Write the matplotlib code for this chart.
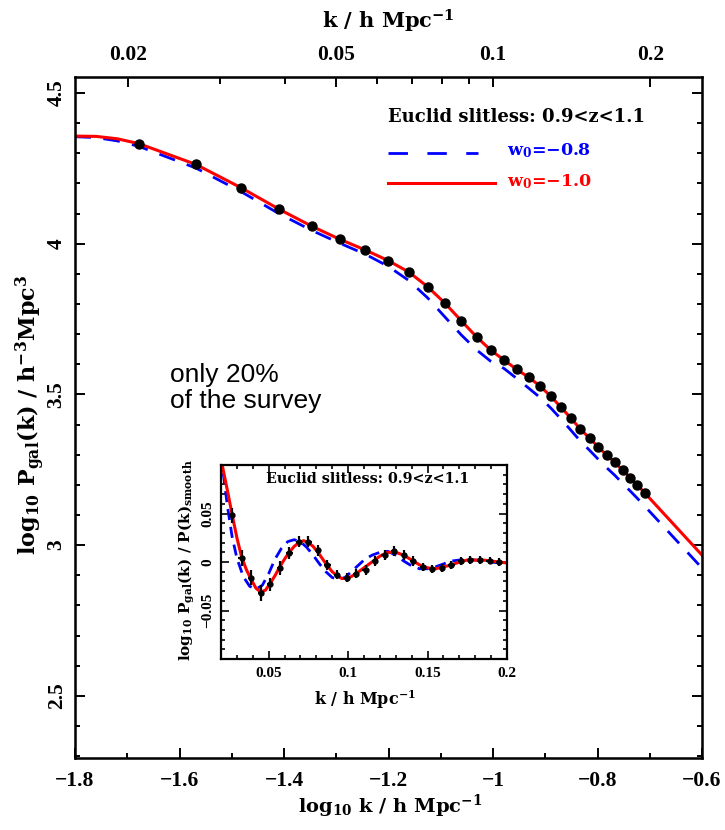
import numpy as np
import matplotlib.pyplot as plt
from matplotlib.ticker import FixedLocator, MultipleLocator, FuncFormatter

plt.rcParams['font.family'] = ['Liberation Serif', 'DejaVu Serif']
plt.rcParams['font.weight'] = 'bold'
plt.rcParams['mathtext.fontset'] = 'custom'
plt.rcParams['mathtext.rm'] = 'DejaVu Serif:bold'
plt.rcParams['mathtext.it'] = 'DejaVu Serif:bold'
plt.rcParams['mathtext.bf'] = 'DejaVu Serif:bold'
LAB = ['DejaVu Serif']

# main panel: binned galaxy power spectrum (dots) and two models
k_pts = [0.021, 0.027, 0.033, 0.039, 0.045, 0.051, 0.057, 0.063, 0.069, 0.075,
         0.081, 0.087, 0.093, 0.099, 0.105, 0.111, 0.117, 0.123, 0.129, 0.135,
         0.141, 0.147, 0.153, 0.159, 0.165, 0.171, 0.177, 0.183, 0.189, 0.195]
logP_pts = [4.332, 4.263, 4.185, 4.114, 4.058, 4.014, 3.979, 3.944, 3.906, 3.857,
            3.802, 3.744, 3.691, 3.647, 3.614, 3.583, 3.557, 3.528, 3.494, 3.457,
            3.421, 3.385, 3.355, 3.326, 3.299, 3.275, 3.249, 3.224, 3.199, 3.174]

k_line = [0.0158, 0.0174, 0.0191] + k_pts + [0.2512]
logP_w10 = [4.357, 4.356, 4.348,
            4.332, 4.263, 4.185, 4.114, 4.058, 4.014, 3.979, 3.944, 3.906, 3.857,
            3.802, 3.744, 3.691, 3.647, 3.614, 3.583, 3.557, 3.528, 3.494, 3.457,
            3.421, 3.385, 3.355, 3.326, 3.299, 3.275, 3.249, 3.224, 3.199, 3.174,
            2.967]
logP_w08 = [4.355, 4.352, 4.341,
            4.323, 4.251, 4.172, 4.099, 4.044, 4.001, 3.965, 3.925, 3.878, 3.820,
            3.756, 3.697, 3.648, 3.610, 3.586, 3.553, 3.521, 3.490, 3.455, 3.418,
            3.381, 3.345, 3.315, 3.285, 3.257, 3.232, 3.205, 3.180, 3.155, 3.130,
            2.924]

# inset: ratio to smooth spectrum
k_in = k_pts[1:]
ratio_pts = [0.048, 0.004, -0.016, -0.032, -0.023, -0.006, 0.009, 0.021, 0.021, 0.012,
             -0.003, -0.013, -0.016, -0.012, -0.008, 0.001, 0.0075, 0.011, 0.0075, 0.001,
             -0.005, -0.007, -0.006, -0.003, 0.001, 0.002, 0.002, 0.0015, 0.0]
ratio_err = [0.008, 0.008, 0.008, 0.008, 0.007, 0.007, 0.006, 0.006, 0.006, 0.006,
             0.005, 0.005, 0.005, 0.005, 0.005, 0.005, 0.005, 0.005, 0.005, 0.005,
             0.004, 0.004, 0.004, 0.004, 0.004, 0.004, 0.004, 0.004, 0.004]

k_in_red = [0.020, 0.024, 0.027, 0.030, 0.033, 0.036, 0.039, 0.042, 0.045, 0.048,
            0.051, 0.054, 0.057, 0.060, 0.063, 0.066, 0.069, 0.072, 0.075, 0.078,
            0.081, 0.084, 0.087, 0.090, 0.093, 0.096, 0.099, 0.102, 0.105, 0.110,
            0.115, 0.120, 0.125, 0.130, 0.135, 0.140, 0.145, 0.150, 0.155, 0.160,
            0.165, 0.170, 0.175, 0.180, 0.185, 0.190, 0.195, 0.200]
ratio_w10 = [0.106, 0.074, 0.049, 0.025, 0.005, -0.008, -0.018, -0.027, -0.031, -0.029,
             -0.022, -0.014, -0.005, 0.003, 0.010, 0.016, 0.020, 0.022, 0.020, 0.016,
             0.010, 0.003, -0.004, -0.010, -0.014, -0.017, -0.017, -0.015, -0.012, -0.006,
             0.000, 0.006, 0.010, 0.010, 0.007, 0.002, -0.003, -0.006, -0.007, -0.005,
             -0.003, 0.000, 0.002, 0.002, 0.002, 0.001, 0.000, -0.001]

k_in_blue = [0.020, 0.024, 0.027, 0.030, 0.034, 0.038, 0.042, 0.046, 0.050, 0.054,
             0.058, 0.062, 0.066, 0.070, 0.074, 0.078, 0.082, 0.086, 0.090, 0.094,
             0.098, 0.102, 0.106, 0.110, 0.115, 0.120, 0.125, 0.130, 0.135, 0.140,
             0.145, 0.150, 0.155, 0.160, 0.165, 0.170, 0.175, 0.180, 0.185, 0.190,
             0.195, 0.200]
ratio_w08 = [0.110, 0.058, 0.026, 0.004, -0.015, -0.025, -0.028, -0.024, -0.012, 0.003,
             0.014, 0.021, 0.023, 0.021, 0.015, 0.007, -0.002, -0.010, -0.016, -0.018,
             -0.016, -0.010, -0.004, 0.002, 0.007, 0.010, 0.011, 0.007, 0.001, -0.004,
             -0.007, -0.007, -0.005, -0.002, 0.001, 0.002, 0.003, 0.002, 0.001, 0.000,
             -0.001, -0.001]

top_ticks = [0.02, 0.05, 0.1, 0.2]
top_minor = [0.03, 0.04, 0.06, 0.07, 0.08, 0.09]

W, H = 725, 830
fig = plt.figure(figsize=(W / 100, H / 100), dpi=100)


def box(l, t, r, b):
    return [l / W, 1 - b / H, (r - l) / W, (b - t) / H]


def fmt(x, pos):
    return f'{x:g}'.replace('-', '\u2212')


ax = fig.add_axes(box(75, 77, 702, 758))
ax.plot(np.log10(k_line), logP_w08, color='blue', lw=2.0, dashes=(6, 4.5))
ax.plot(np.log10(k_line), logP_w10, color='red', lw=2.2)
ax.plot(np.log10(k_pts), logP_pts, 'o', color='black', ms=6.5)
ax.set_xlim(-1.8, -0.6)
ax.set_ylim(2.294, 4.553)

ax.xaxis.set_major_locator(MultipleLocator(0.2))
ax.xaxis.set_minor_locator(MultipleLocator(0.1))
ax.yaxis.set_major_locator(MultipleLocator(0.5))
ax.yaxis.set_minor_locator(MultipleLocator(0.1))
ax.xaxis.set_major_formatter(FuncFormatter(fmt))
ax.yaxis.set_major_formatter(FuncFormatter(fmt))
ax.tick_params(which='both', direction='in', right=True, labelsize=15.5, width=1.4)
ax.tick_params(which='major', length=7)
ax.tick_params(which='minor', length=3.5)
ax.tick_params(axis='x', pad=9)
ax.tick_params(axis='y', pad=6)
for lab in ax.get_yticklabels():
    lab.set_rotation(90)
    lab.set_va('center')
for s in ax.spines.values():
    s.set_linewidth(1.8)

top = ax.twiny()
top.set_xlim(ax.get_xlim())
top.xaxis.set_major_locator(FixedLocator(np.log10(top_ticks)))
top.xaxis.set_minor_locator(FixedLocator(np.log10(top_minor)))
top.set_xticklabels([f'{t:g}' for t in top_ticks])
top.tick_params(which='both', direction='in', labelsize=15.5, width=1.4, pad=9)
top.tick_params(which='major', length=7)
top.tick_params(which='minor', length=5)

fig.text(388 / W, 1 - 21 / H, 'k / h Mpc$^{-1}$', ha='center', va='center',
         fontsize=15, family=LAB)
fig.text(390 / W, 1 - 806 / H, 'log$_{10}$ k / h Mpc$^{-1}$', ha='center', va='center',
         fontsize=14, family=LAB)
fig.text(30 / W, 1 - 415 / H, r'log$_{10}$ P$_{\rm gal}$(k) / h$^{-3}$Mpc$^3$',
         ha='center', va='center', rotation=90, fontsize=16, family=LAB)

# legend drawn by hand
ax.text(0.499, 0.941, 'Euclid slitless: 0.9<z<1.1', transform=ax.transAxes,
        ha='left', va='center', fontsize=13, family=LAB)
ax.plot([0.499, 0.643], [0.889, 0.889], transform=ax.transAxes,
        color='blue', lw=2.0, dashes=(7, 7))
ax.plot([0.499, 0.670], [0.844, 0.844], transform=ax.transAxes, color='red', lw=2.2)
ax.text(0.689, 0.892, 'w$_0$=\u22120.8', transform=ax.transAxes, color='blue',
        ha='left', va='center', fontsize=12.5, family=LAB)
ax.text(0.689, 0.847, 'w$_0$=\u22121.0', transform=ax.transAxes, color='red',
        ha='left', va='center', fontsize=12.5, family=LAB)

fig.text(170 / W, 1 - 388 / H, 'only 20%\nof the survey', ha='left', va='center',
         fontsize=19, family='Liberation Sans', fontweight='normal', linespacing=1.15)

# inset
iax = fig.add_axes(box(221, 465, 507, 659))
iax.plot(k_in_blue, ratio_w08, color='blue', lw=2.0, dashes=(4, 2.5))
iax.plot(k_in_red, ratio_w10, color='red', lw=2.2)
iax.errorbar(k_in, ratio_pts, yerr=ratio_err, xerr=0.002, fmt='o', color='black',
             ms=3.5, elinewidth=1.6, capsize=0)
iax.set_xlim(0.02, 0.2)
iax.set_ylim(-0.1, 0.1)
iax.xaxis.set_major_locator(FixedLocator([0.05, 0.1, 0.15, 0.2]))
iax.xaxis.set_minor_locator(MultipleLocator(0.01))
iax.yaxis.set_major_locator(FixedLocator([-0.05, 0.0, 0.05]))
iax.yaxis.set_minor_locator(MultipleLocator(0.01))
iax.xaxis.set_major_formatter(FuncFormatter(fmt))
iax.yaxis.set_major_formatter(FuncFormatter(fmt))
iax.tick_params(which='both', direction='in', top=True, right=True, labelsize=11, width=1.2)
iax.tick_params(which='major', length=6)
iax.tick_params(which='minor', length=3)
iax.tick_params(axis='x', pad=6)
iax.tick_params(axis='y', pad=5)
for lab in iax.get_yticklabels():
    lab.set_rotation(90)
    lab.set_va('center')
for s in iax.spines.values():
    s.set_linewidth(1.6)
iax.text(0.514, 0.93, 'Euclid slitless: 0.9<z<1.1', transform=iax.transAxes,
         ha='center', va='center', fontsize=10.3, family=LAB)
fig.text(365 / W, 1 - 700 / H, 'k / h Mpc$^{-1}$', ha='center', va='center',
         fontsize=11.5, family=LAB)
fig.text(187 / W, 1 - 560 / H, r'log$_{10}$ P$_{\rm gal}$(k) / P(k)$_{\rm smooth}$',
         ha='center', va='center', rotation=90, fontsize=11, family=LAB)

fig.savefig('out.png', dpi=100)
